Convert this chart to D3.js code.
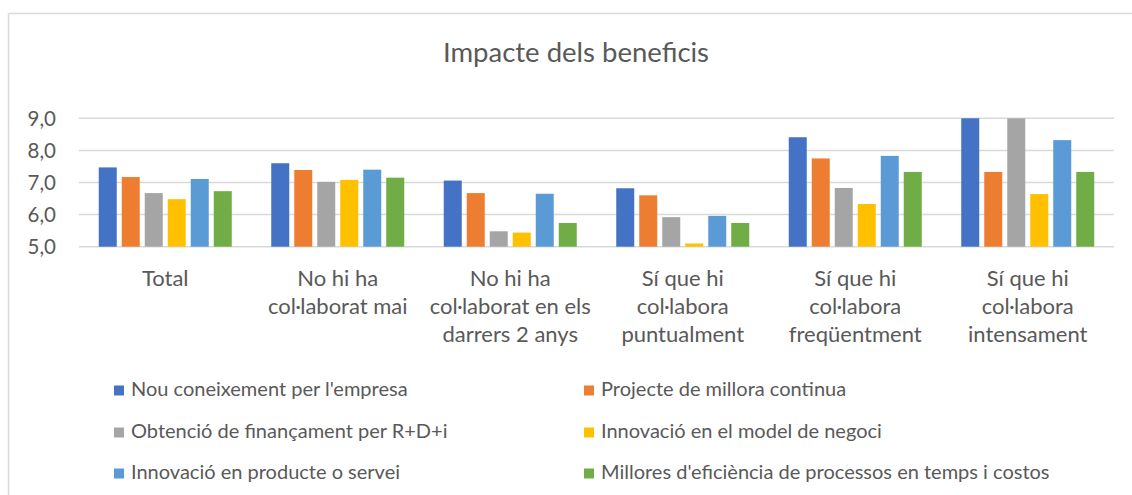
<!DOCTYPE html>
<html>
<head>
<meta charset="utf-8">
<script src="https://cdn.jsdelivr.net/npm/d3@7"></script>
<style>
  html, body { margin: 0; padding: 0; background: #fff; overflow: hidden; }
  svg { display: block; }
</style>
</head>
<body>
<svg id="chart" width="1132" height="495" viewBox="0 0 1132 495"></svg>
<script>
// Categories (multi-line labels)
const categories = [
  ["Total"],
  ["No hi ha", "col·laborat mai"],
  ["No hi ha", "col·laborat en els", "darrers 2 anys"],
  ["Sí que hi", "col·labora", "puntualment"],
  ["Sí que hi", "col·labora", "freqüentment"],
  ["Sí que hi", "col·labora", "intensament"]
];

const seriesNames = [
  "Nou coneixement per l'empresa",
  "Projecte de millora continua",
  "Obtenció de finançament per R+D+i",
  "Innovació en el model de negoci",
  "Innovació en producte o servei",
  "Millores d'eficiència de processos en temps i costos"
];

const colors = ["#4472C4", "#ED7D31", "#A5A5A5", "#FFC000", "#5B9BD5", "#70AD47"];

// Values per series, one entry per category
const nouConeixement   = [7.47, 7.60, 7.06, 6.82, 8.41, 9.00];
const milloraContinua  = [7.17, 7.39, 6.67, 6.60, 7.75, 7.33];
const financament      = [6.67, 7.02, 5.48, 5.92, 6.83, 9.00];
const modelNegoci      = [6.48, 7.08, 5.44, 5.10, 6.33, 6.64];
const producteServei   = [7.11, 7.40, 6.65, 5.96, 7.83, 8.32];
const eficiencia       = [6.73, 7.15, 5.74, 5.74, 7.33, 7.33];

const seriesValues = [nouConeixement, milloraContinua, financament, modelNegoci, producteServei, eficiencia];

const yTicks = [5, 6, 7, 8, 9];

const FONT = "Lato, 'Open Sans', sans-serif";
const TEXT_COLOR = "#595959";

const svg = d3.select("#chart");

// Chart frame: left and top edges only
svg.append("line")
  .attr("x1", 8.5).attr("y1", 13.5).attr("x2", 8.5).attr("y2", 495)
  .attr("stroke", "#D9D9D9").attr("stroke-width", 1.5);
svg.append("line")
  .attr("x1", 8.5).attr("y1", 13.5).attr("x2", 1132).attr("y2", 13.5)
  .attr("stroke", "#D9D9D9").attr("stroke-width", 1.5);

// Title
svg.append("text")
  .attr("x", 576).attr("y", 61.5)
  .attr("text-anchor", "middle")
  .attr("font-family", FONT)
  .attr("font-size", 27.5)
  .attr("fill", TEXT_COLOR)
  .text("Impacte dels beneficis");

const plot = { left: 79, right: 1114, top: 118.3, bottom: 246.7 };

const y = d3.scaleLinear().domain([5, 9]).range([plot.bottom, plot.top]);

const x0 = d3.scaleBand()
  .domain(d3.range(categories.length))
  .range([plot.left, plot.right])
  .paddingInner(0).paddingOuter(0);

const innerWidth = 133;
const x1 = d3.scaleBand()
  .domain(d3.range(seriesNames.length))
  .range([0, innerWidth])
  .paddingInner(5 / 23).paddingOuter(0);
const innerOffset = (x0.bandwidth() - innerWidth) / 2;

// Gridlines
svg.append("g")
  .selectAll("line")
  .data(yTicks)
  .join("line")
  .attr("x1", plot.left).attr("x2", plot.right)
  .attr("y1", d => y(d)).attr("y2", d => y(d))
  .attr("stroke", "#D9D9D9")
  .attr("stroke-width", 1.5);

// Y axis labels
const yAxis = d3.axisLeft(y)
  .tickValues(yTicks)
  .tickSize(0)
  .tickPadding(0)
  .tickFormat(d => d3.format(".1f")(d).replace(".", ","));

const yg = svg.append("g")
  .attr("transform", `translate(56,0)`)
  .call(yAxis);
yg.select(".domain").remove();
yg.attr("font-family", FONT).attr("font-size", 20.5);
yg.selectAll("text")
  .attr("fill", TEXT_COLOR)
  .attr("dy", "0.35em");

// Bars
const groups = svg.append("g")
  .selectAll("g")
  .data(categories.map((c, i) => i))
  .join("g")
  .attr("transform", i => `translate(${x0(i) + innerOffset},0)`);

groups.selectAll("rect")
  .data(ci => seriesValues.map((vals, si) => ({ si, v: vals[ci] })))
  .join("rect")
  .attr("x", d => x1(d.si))
  .attr("width", x1.bandwidth())
  .attr("y", d => y(d.v))
  .attr("height", d => y(5) - y(d.v))
  .attr("fill", d => colors[d.si]);

// Category labels, one text per line
const lineHeight = 27.8;
const catGroups = svg.append("g")
  .selectAll("g")
  .data(categories)
  .join("g")
  .attr("transform", (d, i) => `translate(${x0(i) + x0.bandwidth() / 2},286)`);

catGroups.selectAll("text")
  .data(d => d)
  .join("text")
  .attr("x", 0)
  .attr("y", (d, i) => i * lineHeight)
  .attr("text-anchor", "middle")
  .attr("font-family", FONT)
  .attr("font-size", 22)
  .attr("fill", TEXT_COLOR)
  .text(d => d);

// Legend: two columns, three rows
const legendCols = [114, 584];
const legendRows = [396, 438, 479];
const legend = svg.append("g")
  .selectAll("g")
  .data(seriesNames.map((n, i) => ({ n, i })))
  .join("g")
  .attr("transform", d => `translate(${legendCols[d.i % 2]},${legendRows[Math.floor(d.i / 2)]})`);

legend.append("rect")
  .attr("x", 0).attr("y", -10.5)
  .attr("width", 10).attr("height", 10)
  .attr("fill", d => colors[d.i]);

legend.append("text")
  .attr("x", 17).attr("y", 0)
  .attr("font-family", FONT)
  .attr("font-size", 20)
  .attr("fill", TEXT_COLOR)
  .text(d => d.n);
</script>
</body>
</html>
